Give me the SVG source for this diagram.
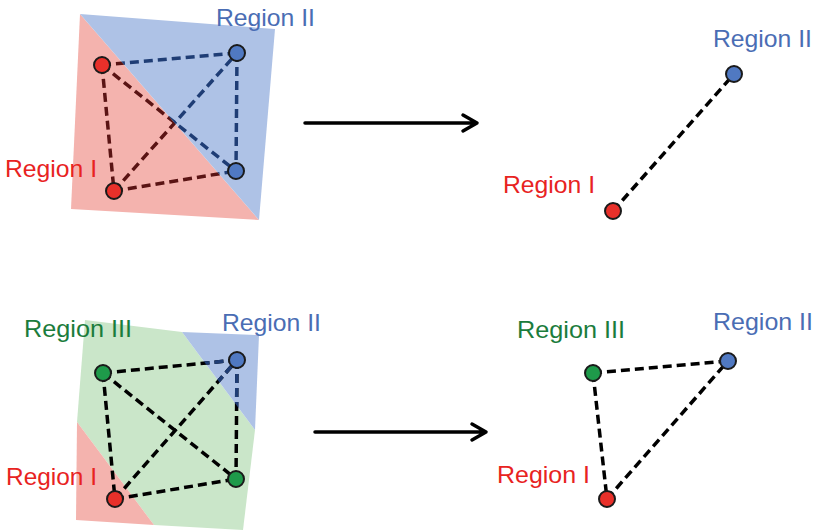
<svg xmlns="http://www.w3.org/2000/svg" width="817" height="532" viewBox="0 0 817 532">
  <style>
    .lbl { font-family: "Liberation Sans", Arial, sans-serif; font-size: 24px; }
    .red-t { fill: #e8231f; }
    .blue-t { fill: #4a6db4; }
    .green-t { fill: #1b7c3c; }
    .edge { fill: none; stroke-width: 3.5; stroke-dasharray: 9 5; }
    .node { stroke: #1a1a1a; stroke-width: 2; }
    .n-red { fill: #e8302a; }
    .n-blue { fill: #5079c2; }
    .n-green { fill: #1e9a4a; }
    .arrow { fill: none; stroke: #000; stroke-width: 3.5; stroke-linecap: round; stroke-linejoin: round; }
  </style>
  <defs>
    <clipPath id="clip-pink"><polygon points="80,14 259,220 71,209 0,209 0,0 80,0"/></clipPath>
    <clipPath id="clip-blue"><polygon points="80,14 259,220 300,220 300,0 80,0"/></clipPath>
    <clipPath id="clip-blue2"><polygon points="182,332 259,335 255,430"/></clipPath>
    <g id="tl-edges">
      <line x1="102" y1="65" x2="237" y2="53"/>
      <line x1="102" y1="65" x2="236" y2="171"/>
      <line x1="102" y1="65" x2="114" y2="191"/>
      <line x1="114" y1="191" x2="237" y2="53"/>
      <line x1="114" y1="191" x2="236" y2="171"/>
      <line x1="237" y1="53" x2="236" y2="171"/>
    </g>
    <g id="bl-edges">
      <line x1="103" y1="373" x2="237" y2="360"/>
      <line x1="103" y1="373" x2="236" y2="479"/>
      <line x1="103" y1="373" x2="115" y2="499"/>
      <line x1="115" y1="499" x2="237" y2="360"/>
      <line x1="115" y1="499" x2="236" y2="479"/>
      <line x1="237" y1="360" x2="236" y2="479"/>
    </g>
  </defs>

  <!-- Upper left: two regions -->
  <g id="regions-top">
    <polygon points="80,14 259,220 71,209" fill="#f4b3ae"/>
    <polygon points="80,14 275,29 259,220" fill="#aec2e6"/>
  </g>

  <!-- Lower left: three regions -->
  <g id="regions-bottom">
    <polygon points="85,320 182,332 255,430 243,530 154,525 77,422" fill="#cae6c9"/>
    <polygon points="182,332 259,335 255,430" fill="#aec2e6"/>
    <polygon points="77,422 76,520 154,525" fill="#f4b3ae"/>
  </g>

  <g id="connectors">
    <use href="#tl-edges" class="edge" stroke="#5a1414" clip-path="url(#clip-pink)"/>
    <use href="#tl-edges" class="edge" stroke="#1f3d75" clip-path="url(#clip-blue)"/>
    <use href="#bl-edges" class="edge" stroke="#000"/>
    <use href="#bl-edges" class="edge" stroke="#1f3d75" clip-path="url(#clip-blue2)"/>
    <line class="edge" stroke="#000" x1="613" y1="211" x2="734" y2="74"/>
    <line class="edge" stroke="#000" x1="593" y1="373" x2="728" y2="361"/>
    <line class="edge" stroke="#000" x1="593" y1="373" x2="607" y2="499"/>
    <line class="edge" stroke="#000" x1="607" y1="499" x2="728" y2="361"/>
    <path class="arrow" d="M305,123 H477 M463,115 L477,123 L463,131"/>
    <path class="arrow" d="M315,432 H486 M472,424 L486,432 L472,440"/>
  </g>

  <g id="tl-nodes">
    <circle id="tl-r1" class="node n-red" cx="102" cy="65" r="8"/>
    <circle id="tl-r2" class="node n-red" cx="114" cy="191" r="8"/>
    <circle id="tl-b1" class="node n-blue" cx="237" cy="53" r="8"/>
    <circle id="tl-b2" class="node n-blue" cx="236" cy="171" r="8"/>
  </g>
  <g id="tr-nodes">
    <circle id="tr-r" class="node n-red" cx="613" cy="211" r="8"/>
    <circle id="tr-b" class="node n-blue" cx="734" cy="74" r="8"/>
  </g>
  <g id="bl-nodes">
    <circle id="bl-g1" class="node n-green" cx="103" cy="373" r="8"/>
    <circle id="bl-b" class="node n-blue" cx="237" cy="360" r="8"/>
    <circle id="bl-g2" class="node n-green" cx="236" cy="479" r="8"/>
    <circle id="bl-r" class="node n-red" cx="115" cy="499" r="8"/>
  </g>
  <g id="br-nodes">
    <circle id="br-g" class="node n-green" cx="593" cy="373" r="8"/>
    <circle id="br-b" class="node n-blue" cx="728" cy="361" r="8"/>
    <circle id="br-r" class="node n-red" cx="607" cy="499" r="8"/>
  </g>

  <g id="labels">
    <text class="lbl blue-t" x="216" y="26" textLength="99" lengthAdjust="spacingAndGlyphs">Region II</text>
    <text class="lbl red-t" x="5" y="177" textLength="92" lengthAdjust="spacingAndGlyphs">Region I</text>
    <text class="lbl blue-t" x="713" y="47" textLength="99" lengthAdjust="spacingAndGlyphs">Region II</text>
    <text class="lbl red-t" x="503" y="193" textLength="92" lengthAdjust="spacingAndGlyphs">Region I</text>
    <text class="lbl green-t" x="24" y="337" textLength="108" lengthAdjust="spacingAndGlyphs">Region III</text>
    <text class="lbl blue-t" x="222" y="331" textLength="99" lengthAdjust="spacingAndGlyphs">Region II</text>
    <text class="lbl red-t" x="6" y="485" textLength="91" lengthAdjust="spacingAndGlyphs">Region I</text>
    <text class="lbl green-t" x="517" y="338" textLength="108" lengthAdjust="spacingAndGlyphs">Region III</text>
    <text class="lbl blue-t" x="713" y="330" textLength="100" lengthAdjust="spacingAndGlyphs">Region II</text>
    <text class="lbl red-t" x="497" y="483" textLength="93" lengthAdjust="spacingAndGlyphs">Region I</text>
  </g>
</svg>
